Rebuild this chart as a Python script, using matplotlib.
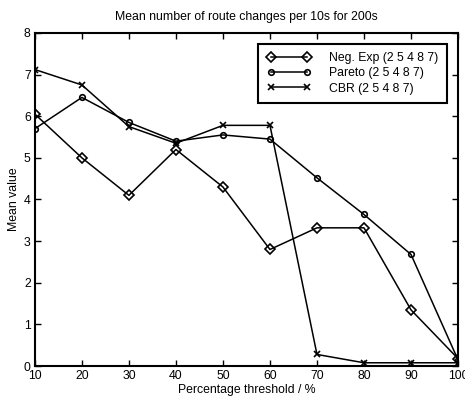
import numpy as np
import matplotlib.pyplot as plt

plt.rcParams['font.family'] = ['Liberation Sans', 'DejaVu Sans']

thresholds = [10, 20, 30, 40, 50, 60, 70, 80, 90, 100]
neg_exp = [6.05, 5.0, 4.1, 5.2, 4.3, 2.8, 3.32, 3.32, 1.35, 0.18]
pareto = [5.7, 6.45, 5.85, 5.4, 5.55, 5.45, 4.52, 3.64, 2.68, 0.15]
cbr = [7.12, 6.75, 5.75, 5.35, 5.78, 5.78, 0.28, 0.08, 0.08, 0.08]
labels = ['Neg. Exp (2 5 4 8 7)', 'Pareto (2 5 4 8 7)', 'CBR (2 5 4 8 7)']

fs = 8.8

fig = plt.figure(figsize=(4.65, 4.01), dpi=100)
ax = fig.add_axes([0.075, 0.087, 0.91, 0.831])

ax.plot(thresholds, neg_exp, color='black', lw=1.1, marker='D', ms=5,
        mfc='none', mec='black', mew=1.2, label=labels[0])
ax.plot(thresholds, pareto, color='black', lw=1.1, marker='o', ms=4,
        mfc='none', mec='black', mew=1.2, label=labels[1])
ax.plot(thresholds, cbr, color='black', lw=1.1, marker='x', ms=4,
        mec='black', mew=1.2, label=labels[2])

ax.set_xlim(10, 100)
ax.set_ylim(0, 8)
ax.set_xticks(thresholds)
ax.set_yticks(range(0, 9))
ax.tick_params(direction='in', top=True, right=True, labelsize=fs,
               length=4, width=1, pad=3)
for s in ax.spines.values():
    s.set_linewidth(1.5)

ax.set_title('Mean number of route changes per 10s for 200s', fontsize=fs, pad=9)
ax.set_xlabel('Percentage threshold / %', fontsize=fs, labelpad=1)
ax.set_ylabel('Mean value', fontsize=fs, labelpad=3)

leg = ax.legend(loc='upper right', fontsize=fs, numpoints=2, handlelength=3.6,
                fancybox=False, framealpha=1, borderpad=0.7, labelspacing=0.25,
                handletextpad=1.5, borderaxespad=0.9)
leg.get_frame().set_edgecolor('black')
leg.get_frame().set_linewidth(1.5)

fig.savefig('out.png', dpi=100)
